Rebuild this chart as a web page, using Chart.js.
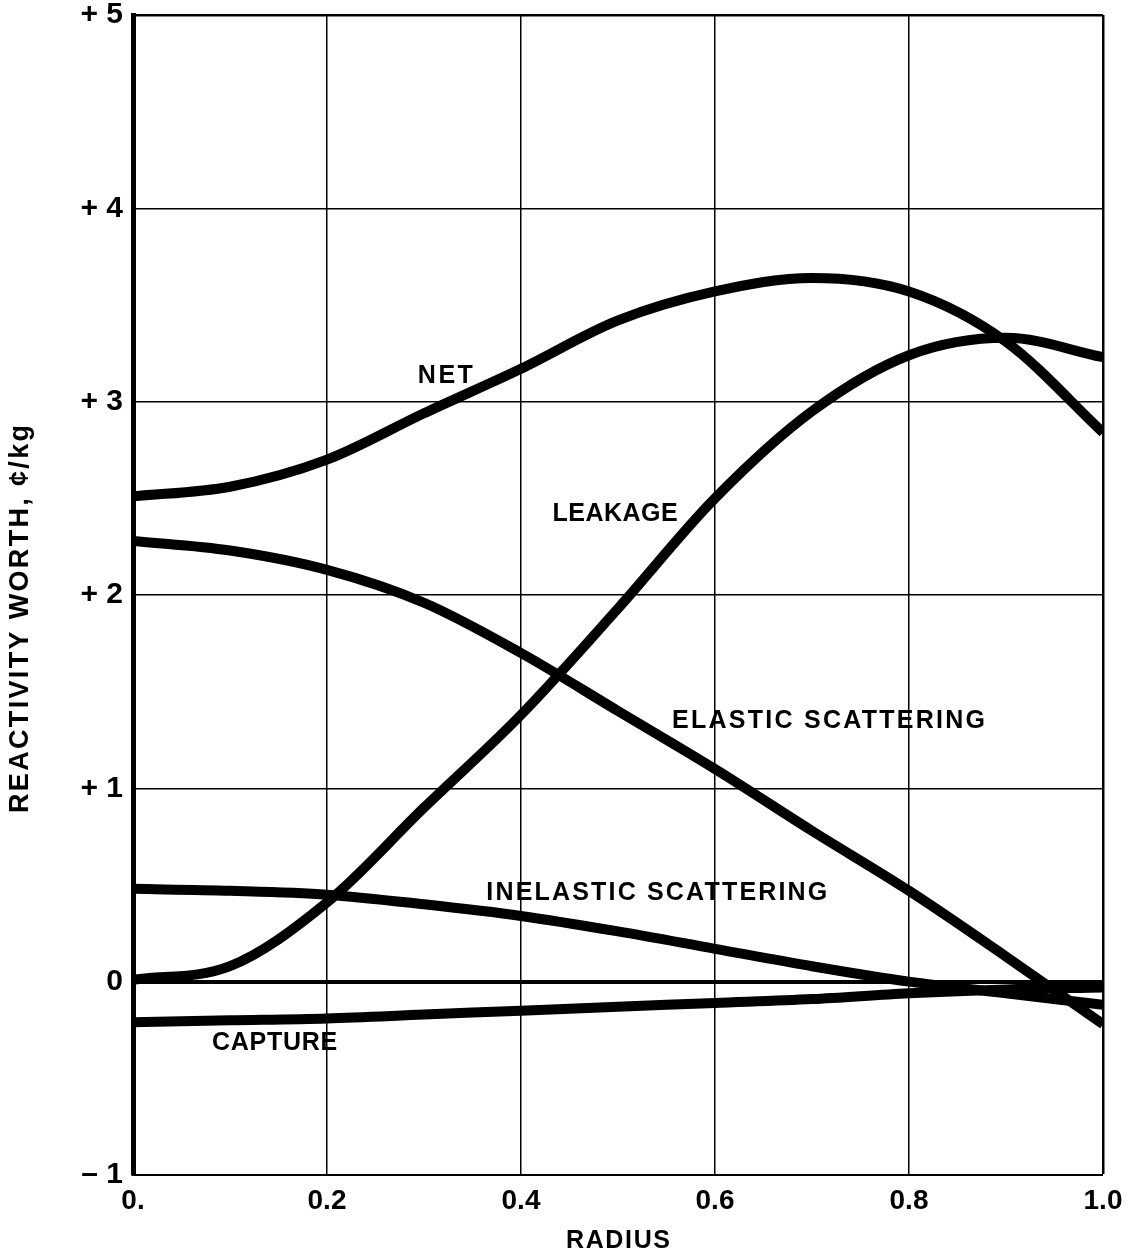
<!DOCTYPE html>
<html>
<head>
<meta charset="utf-8">
<script src="https://cdn.jsdelivr.net/npm/chart.js@4/dist/chart.umd.min.js"></script>
<style>
    html, body { margin: 0; padding: 0; background: #fff; }
</style>
</head>
<body>
<canvas id="worth-chart" width="1131" height="1258"></canvas>
<script>
// Radius positions
const radius = [0, 0.1, 0.2, 0.3, 0.4, 0.5, 0.6, 0.7, 0.8, 0.9, 1.0];

// Reactivity worth, cents/kg
const netWorth       = [2.51, 2.56, 2.70, 2.94, 3.17, 3.42, 3.57, 3.64, 3.57, 3.31, 2.84];
const leakageWorth   = [0.01, 0.08, 0.41, 0.90, 1.38, 1.93, 2.50, 2.95, 3.24, 3.33, 3.23];
const elasticWorth   = [2.28, 2.23, 2.13, 1.96, 1.70, 1.40, 1.10, 0.78, 0.47, 0.13, -0.22];
const inelasticWorth = [0.48, 0.47, 0.45, 0.40, 0.34, 0.26, 0.17, 0.08, 0.00, -0.06, -0.12];
const captureWorth   = [-0.21, -0.20, -0.19, -0.17, -0.15, -0.13, -0.11, -0.09, -0.06, -0.04, -0.03];

// Axis ticks
const yTicks = [-1, 0, 1, 2, 3, 4, 5];
const xTicks = [0, 0.2, 0.4, 0.6, 0.8, 1.0];

// Curve captions (placed in data units)
const captions = [
    { text: 'NET', x: 0.322, y: 3.13, width: 55 },
    { text: 'LEAKAGE', x: 0.497, y: 2.42, width: 125 },
    { text: 'ELASTIC SCATTERING', x: 0.717, y: 1.35, width: 313 },
    { text: 'INELASTIC SCATTERING', x: 0.54, y: 0.46, width: 341 },
    { text: 'CAPTURE', x: 0.146, y: -0.32, width: 125 }
];

function toPoints(values) {
    return radius.map(function(r, i) { return { x: r, y: values[i] }; });
}

function curve(label, values) {
    return {
        label: label,
        data: toPoints(values),
        borderColor: '#000',
        borderWidth: 10,
        borderCapStyle: 'butt',
        pointRadius: 0,
        fill: false,
        cubicInterpolationMode: 'monotone'
    };
}

// Draw text stretched to a given width
function fitText(ctx, text, cx, cy, width) {
    ctx.letterSpacing = '0px';
    const w = ctx.measureText(text).width;
    const gap = text.length > 1 ? (width - w) / (text.length - 1) : 0;
    ctx.letterSpacing = gap + 'px';
    ctx.textAlign = 'left';
    ctx.textBaseline = 'middle';
    ctx.fillText(text, cx - width / 2, cy);
    ctx.letterSpacing = '0px';
}

const textPlugin = {
    id: 'chartText',
    afterDraw: function(chart) {
        const ctx = chart.ctx;
        const xs = chart.scales.x;
        const ys = chart.scales.y;
        ctx.save();
        ctx.fillStyle = '#000';
        ctx.font = 'bold 25px "Liberation Sans", Arial, sans-serif';
        captions.forEach(function(c) {
            fitText(ctx, c.text, xs.getPixelForValue(c.x), ys.getPixelForValue(c.y), c.width);
        });

        // x axis title
        ctx.font = 'bold 25px "Liberation Sans", Arial, sans-serif';
        fitText(ctx, 'RADIUS', (chart.chartArea.left + chart.chartArea.right) / 2, 1241, 104);

        // y axis title
        ctx.translate(21, 619);
        ctx.rotate(-Math.PI / 2);
        ctx.font = 'bold 27px "Liberation Sans", Arial, sans-serif';
        fitText(ctx, 'REACTIVITY WORTH, \u00A2/kg', 0, 0, 388);
        ctx.restore();
    }
};

new Chart(document.getElementById('worth-chart'), {
    type: 'line',
    data: {
        datasets: [
            curve('Net', netWorth),
            curve('Leakage', leakageWorth),
            curve('Elastic scattering', elasticWorth),
            curve('Inelastic scattering', inelasticWorth),
            curve('Capture', captureWorth)
        ]
    },
    options: {
        responsive: false,
        animation: false,
        layout: {
            padding: { top: 15, right: 28, bottom: 0, left: 0 }
        },
        plugins: {
            legend: { display: false },
            tooltip: { enabled: false }
        },
        scales: {
            x: {
                type: 'linear',
                min: 0,
                max: 1,
                afterFit: function(scale) {
                    scale.height = 83;
                    scale.paddingLeft = 0;
                    scale.paddingRight = 0;
                },
                afterBuildTicks: function(scale) {
                    scale.ticks = xTicks.map(function(v) { return { value: v }; });
                },
                grid: {
                    color: '#000',
                    drawTicks: false,
                    lineWidth: function(ctx) {
                        if (ctx.tick && ctx.tick.value === 0) return 0;
                        if (ctx.tick && ctx.tick.value === 1) return 2.5;
                        return 1.5;
                    }
                },
                border: { display: true, color: '#000', width: 2 },
                ticks: {
                    color: '#000',
                    padding: 9,
                    maxRotation: 0,
                    font: { family: '"Liberation Sans", Arial, sans-serif', size: 28, weight: 'bold' },
                    callback: function(value) {
                        return value === 0 ? '0.' : value.toFixed(1);
                    }
                }
            },
            y: {
                type: 'linear',
                min: -1,
                max: 5,
                afterFit: function(scale) {
                    scale.width = 133;
                    scale.paddingTop = 0;
                    scale.paddingBottom = 0;
                },
                afterBuildTicks: function(scale) {
                    scale.ticks = yTicks.map(function(v) { return { value: v }; });
                },
                grid: {
                    color: '#000',
                    drawTicks: false,
                    lineWidth: function(ctx) {
                        if (ctx.tick && ctx.tick.value === 0) return 4;
                        if (ctx.tick && ctx.tick.value === 5) return 2.5;
                        return 1.5;
                    }
                },
                border: { display: true, color: '#000', width: 5 },
                ticks: {
                    color: '#000',
                    padding: 10,
                    font: { family: '"Liberation Sans", Arial, sans-serif', size: 30, weight: 'bold' },
                    callback: function(value) {
                        if (value > 0) return '+ ' + value;
                        if (value < 0) return '\u2013 ' + Math.abs(value);
                        return '0';
                    }
                }
            }
        }
    },
    plugins: [textPlugin]
});
</script>
</body>
</html>
